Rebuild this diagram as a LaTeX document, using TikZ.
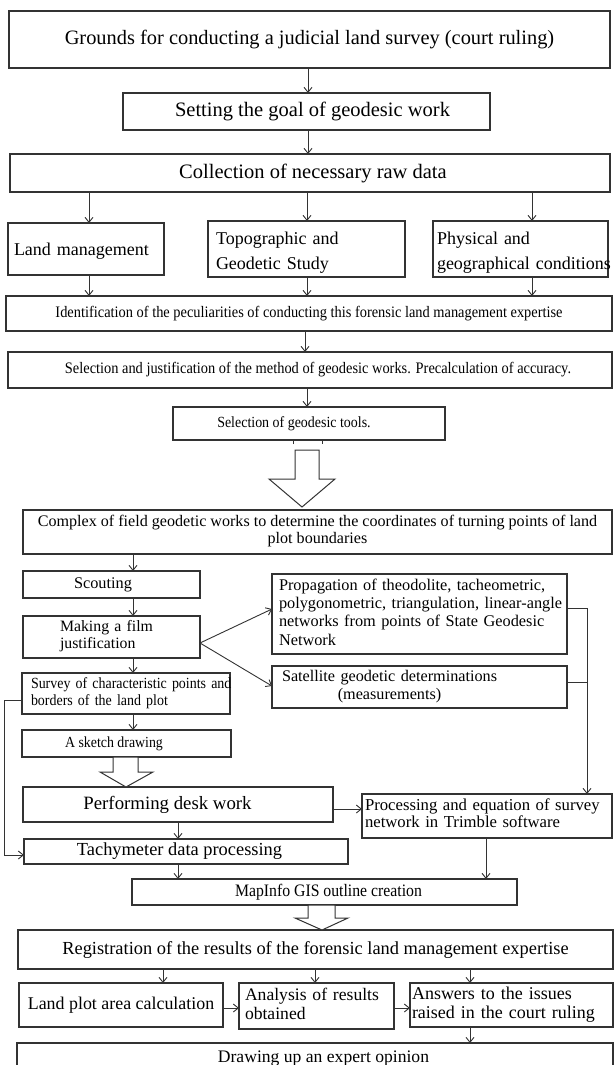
\documentclass[tikz,border=0pt]{standalone}
\usepackage{fontspec}
\setmainfont{Liberation Serif}
\newfontfamily\condf{Liberation Serif}[FakeStretch=0.9]
\usetikzlibrary{arrows.meta,calc}
\definecolor{lc}{HTML}{333333}
\newcommand\bx[7]{\node[box,minimum width={#3-#2},minimum height={#5-#4},#6] (#1) at ({(#2+#3)/2},{(#4+#5)/2}) {#7};}
\newcommand\tl[1]{\begin{tabular}{@{}l@{}}#1\end{tabular}}
\newcommand\tc[1]{\begin{tabular}{@{}c@{}}#1\end{tabular}}
\begin{document}
\begin{tikzpicture}[x=1pt,y=-1pt,
  box/.style={draw=lc,line width=1.1pt,inner sep=0pt,outer sep=0pt,text=black},
  arr/.style={draw=lc,line width=0.9pt,-{Straight Barb[length=5pt,width=8pt]}},
  ln/.style={draw=lc,line width=0.9pt},
  hollow/.style={draw=lc,line width=1pt,fill=white,line join=miter}]
\useasboundingbox (0,0) rectangle (614,1065);
\fill[white] (0,0) rectangle (614,1065);

% column coordinates
\coordinate (xa) at (308,0);
\coordinate (x1) at (89,0);
\coordinate (x2) at (307,0);
\coordinate (x3) at (532,0);
\coordinate (x5) at (305,0);
\coordinate (xs) at (133,0);
\coordinate (xr) at (587,0);
\coordinate (xl) at (4,0);
\coordinate (xt) at (178,0);
\coordinate (xp) at (486,0);
\coordinate (xr1) at (163,0);
\coordinate (xr2) at (315,0);
\coordinate (xr3) at (470,0);

% boxes
\bx{b1}{9}{610}{11}{68}{font=\fontsize{20.4}{24}\selectfont}{Grounds for conducting a judicial land survey (court ruling)}
\bx{b2}{123}{490}{93}{130}{font=\fontsize{20.5}{24}\selectfont}{\hspace*{12pt}Setting the goal of geodesic work}
\bx{b3}{10}{610}{154}{192}{font=\fontsize{20.5}{24}\selectfont}{\hspace*{6pt}Collection of necessary raw data}
\bx{b4a}{8}{164}{223}{275}{font=\fontsize{18}{25}\selectfont,text width=144,align=left}{\mbox{\rule{0pt}{16pt}Land management}}
\bx{b4b}{208}{405}{223}{275}{font=\fontsize{18}{25}\selectfont,text width=181,align=left}{\tl{\rule{0pt}{23.5pt}Topographic and\\Geodetic Study}}
\bx{b4c}{433}{608}{223}{275}{font=\fontsize{18}{25}\selectfont,text width=167,align=left}{\tl{\rule{0pt}{23.5pt}Physical and\\geographical conditions}}
\bx{b5}{6}{612}{296}{331}{font=\condf\fontsize{16}{19}\selectfont}{Identification of the peculiarities of conducting this forensic land management expertise}
\bx{b6}{8}{612}{352}{388}{font=\condf\fontsize{16}{19}\selectfont}{\hspace*{16pt}Selection and justification of the method of geodesic works. Precalculation of accuracy.}
\bx{b7}{173}{445}{407}{440}{font=\condf\fontsize{15.5}{18}\selectfont}{\hspace*{-30pt}Selection of geodesic tools.}
\bx{b8}{23}{612}{510}{554}{font=\fontsize{16.1}{17}\selectfont}{\tc{Complex of field geodetic works to determine the coordinates of turning points of land\\plot boundaries}}
\bx{scout}{23}{200}{571}{598}{font=\fontsize{16.3}{18}\selectfont}{\hspace*{-17pt}Scouting}
\bx{making}{23}{200}{616}{658}{font=\fontsize{15.8}{17}\selectfont,text width=103,align=left}{\tl{Making a film\\justification}}
\bx{prop}{272}{567}{574}{654}{font=\fontsize{16.3}{18.3}\selectfont,text width=281,align=left}{\tl{Propagation of theodolite, tacheometric,\\polygonometric, triangulation, linear-angle\\networks from points of State Geodesic\\Network}}
\bx{sat}{272}{567}{666}{708}{font=\fontsize{16.2}{18.3}\selectfont,text width=275,align=left}{\tc{Satellite geodetic determinations\\(measurements)}}
\bx{survey}{22}{230}{673}{714}{font=\condf\fontsize{15.5}{16.5}\selectfont,text width=190,align=left}{\tl{Survey of characteristic points and\\borders of the land plot}}
\bx{sketch}{22}{231}{730}{757}{font=\condf\fontsize{15.4}{18}\selectfont}{\hspace*{-25pt}A sketch drawing}
\bx{perf}{23}{333}{787}{822}{font=\fontsize{18.8}{22}\selectfont}{\hspace*{-21pt}Performing desk work}
\bx{proc}{362}{612}{794}{838}{font=\fontsize{16.7}{17}\selectfont,text width=244,align=left}{\tl{Processing and equation of survey\\network in Trimble software}}
\bx{tachy}{24}{348}{839}{864}{font=\fontsize{18.4}{21}\selectfont}{\hspace*{-13pt}Tachymeter data processing}
\bx{mapinfo}{132}{517}{879}{905}{font=\condf\fontsize{17.5}{20}\selectfont}{\hspace*{8pt}MapInfo GIS outline creation}
\bx{reg}{18}{613}{930}{969}{font=\fontsize{18.4}{21}\selectfont}{Registration of the results of the forensic land management expertise}
\bx{land}{19}{223}{983}{1027}{font=\fontsize{17.9}{21}\selectfont}{Land plot area calculation}
\bx{anal}{239}{394}{983}{1029}{font=\fontsize{17.6}{19}\selectfont,text width=143,align=left}{\tl{Analysis of results\\obtained}}
\bx{ans}{410}{613}{983}{1027}{font=\fontsize{18}{19}\selectfont,text width=199,align=left}{\tl{Answers to the issues\\raised in the court ruling}}
\bx{drw}{17}{613}{1043}{1075}{font=\fontsize{17.6}{20}\selectfont}{\hspace*{17pt}Drawing up an expert opinion}

% connectors
\draw[arr] (b1.south -| xa) -- (b2.north -| xa);
\draw[arr] (b2.south -| xa) -- (b3.north -| xa);
\draw[arr] (b3.south -| x1) -- (b4a.north -| x1);
\draw[arr] (b3.south -| x2) -- (b4b.north -| x2);
\draw[arr] (b3.south -| x3) -- (b4c.north -| x3);
\draw[arr] (b4a.south -| x1) -- (b5.north -| x1);
\draw[arr] (b4b.south -| x2) -- (b5.north -| x2);
\draw[arr] (b4c.south -| x3) -- (b5.north -| x3);
\draw[arr] (b5.south -| x5) -- (b6.north -| x5);
\draw[arr] (b6.south -| x2) -- (b7.north -| x2);
\draw[ln] (293,444) -- (293,440) -- (322,440) -- (322,444);
\draw[hollow] (295,450) -- (319,450) -- (319,479) -- (335,479) -- (302,507) -- (269,479) -- (295,479) -- cycle;
\draw[arr] (b8.south -| xs) -- (scout.north -| xs);
\draw[arr] (scout.south -| xs) -- (making.north -| xs);
\coordinate (mk) at ($(making.east)+(0,6)$);
\draw[arr] (mk) -- ($(prop.west)+(0,-5)$);
\draw[arr] (mk) -- ($(sat.west)+(0,-1)$);
\draw[arr] (making.south -| xs) -- (survey.north -| xs);
\draw[arr] (survey.south -| xs) -- (sketch.north -| xs);
\draw[arr] ($(prop.east)+(0,-6)$) -| (proc.north -| xr);
\draw[ln] ($(sat.east)+(0,-5)$) -- ++(20,0);
\draw[arr] ($(survey.west)+(0,6.5)$) -| ($(xl |- tachy.west)+(0,3.5)$) -- ($(tachy.west)+(0,3.5)$);
\draw[hollow] (113,757) -- (138,757) -- (138,772) -- (153,772) -- (126,787) -- (100,772) -- (113,772) -- cycle;
\coordinate (pe) at ($(perf.east)+(0,4.5)$);
\draw[arr] (pe) -- (pe -| proc.west);
\draw[arr] (perf.south -| xt) -- (tachy.north -| xt);
\draw[arr] (tachy.south -| xt) -- (mapinfo.north -| xt);
\draw[arr] (proc.south -| xp) -- (mapinfo.north -| xp);
\draw[hollow] (308,905) -- (335,905) -- (335,918) -- (348,918) -- (322,930) -- (295,918) -- (308,918) -- cycle;
\draw[arr] (reg.south -| xr1) -- (land.north -| xr1);
\draw[arr] (reg.south -| xr2) -- (anal.north -| xr2);
\draw[arr] (reg.south -| xr3) -- (ans.north -| xr3);
\coordinate (le) at ($(land.east)+(0,3)$);
\draw[arr] (le) -- (le -| anal.west);
\coordinate (ae) at ($(anal.east)+(0,2)$);
\draw[arr] (ae) -- (ae -| ans.west);
\draw[arr] (ans.south -| xr3) -- (drw.north -| xr3);
\end{tikzpicture}
\end{document}
